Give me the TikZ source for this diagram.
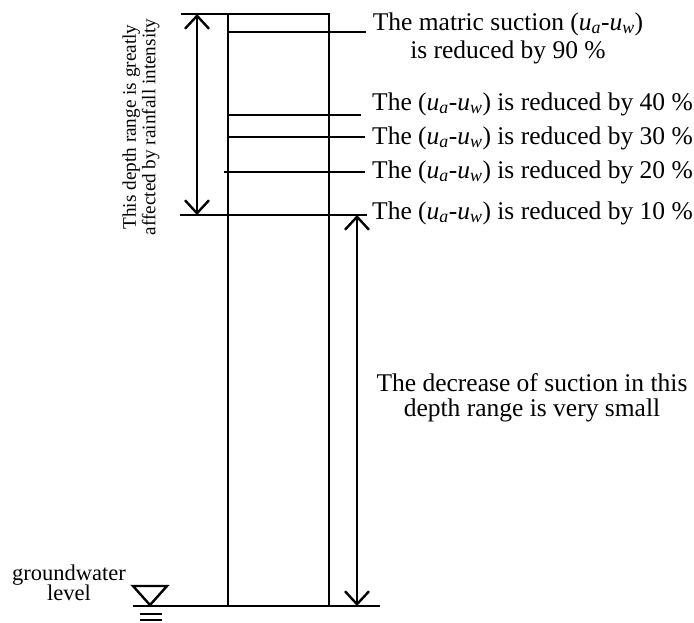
\documentclass[tikz,border=0pt]{standalone}
\usepackage{fontspec}
\setmainfont{Liberation Serif}
\usetikzlibrary{arrows.meta}
\newcommand\uaw{(\textit{u}\textsubscript{\textit{a}}-\textit{u}\textsubscript{\textit{w}})}
\begin{document}
\begin{tikzpicture}[x=1pt,y=-1pt,
  ln/.style={line width=2.8pt},
  dim/.style={line width=2.4pt,{Straight Barb[length=13pt,width=24pt,line width=2.4pt]}-{Straight Barb[length=13pt,width=24pt,line width=2.4pt]}},
  big/.style={font=\fontsize{25.5}{25}\selectfont,inner sep=0pt},
  lbl/.style={big,anchor=west}]
\useasboundingbox (0,0) rectangle (694,622);
% column
\draw[ln] (228,14) rectangle (329,606);
\coordinate (tl) at (181,14);
\coordinate (tr) at (329,14);
\draw[ln] (tl) -- (tr);
\coordinate (bl) at (133,606);
\coordinate (br) at (380,606);
\draw[ln] (bl) -- (br);
% level lines
\coordinate (a90) at (228,32);  \coordinate (b90) at (366,32);
\coordinate (a40) at (228,115); \coordinate (b40) at (361,115);
\coordinate (a30) at (228,137); \coordinate (b30) at (365,137);
\coordinate (a20) at (224,172); \coordinate (b20) at (365,172);
\coordinate (a10) at (180,215); \coordinate (b10) at (367,215);
\foreach \p in {90,40,30,20,10} \draw[ln] (a\p) -- (b\p);
% labels
\node[big,align=center,font=\fontsize{25.5}{28}\selectfont] (t90) at (508,38) {The matric suction \uaw\\is reduced by 90 \%};
\node[lbl] (t40) at (372,104) {The \uaw{} is reduced by 40 \%};
\node[lbl] (t30) at (372,138) {The \uaw{} is reduced by 30 \%};
\node[lbl] (t20) at (372,172) {The \uaw{} is reduced by 20 \%};
\node[lbl] (t10) at (372,213) {The \uaw{} is reduced by 10 \%};
% dimension arrows
\coordinate (u1) at (197,14);  \coordinate (u2) at (197,215);
\draw[dim] (u1) -- (u2);
\coordinate (v1) at (357,215); \coordinate (v2) at (357,606);
\draw[dim] (v1) -- (v2);
\node[font=\fontsize{19.2}{19.5}\selectfont,inner sep=0pt,align=center,rotate=90] (rain) at (141,127) {This depth range is greatly\\affected by rainfall intensity};
\node[big,align=center] (small) at (532,398) {The decrease of suction in this\\depth range is very small};
% groundwater symbol
\draw[line width=2.4pt,line join=miter] (133,586) -- (167,586) -- (150,605) -- cycle;
\draw[line width=2.4pt] (140,614) -- (162,614);
\draw[line width=2.4pt] (140,620) -- (162,620);
\node[font=\fontsize{22.5}{20.5}\selectfont,inner sep=0pt,align=center] (gw) at (69,583) {groundwater\\level};
\end{tikzpicture}
\end{document}
